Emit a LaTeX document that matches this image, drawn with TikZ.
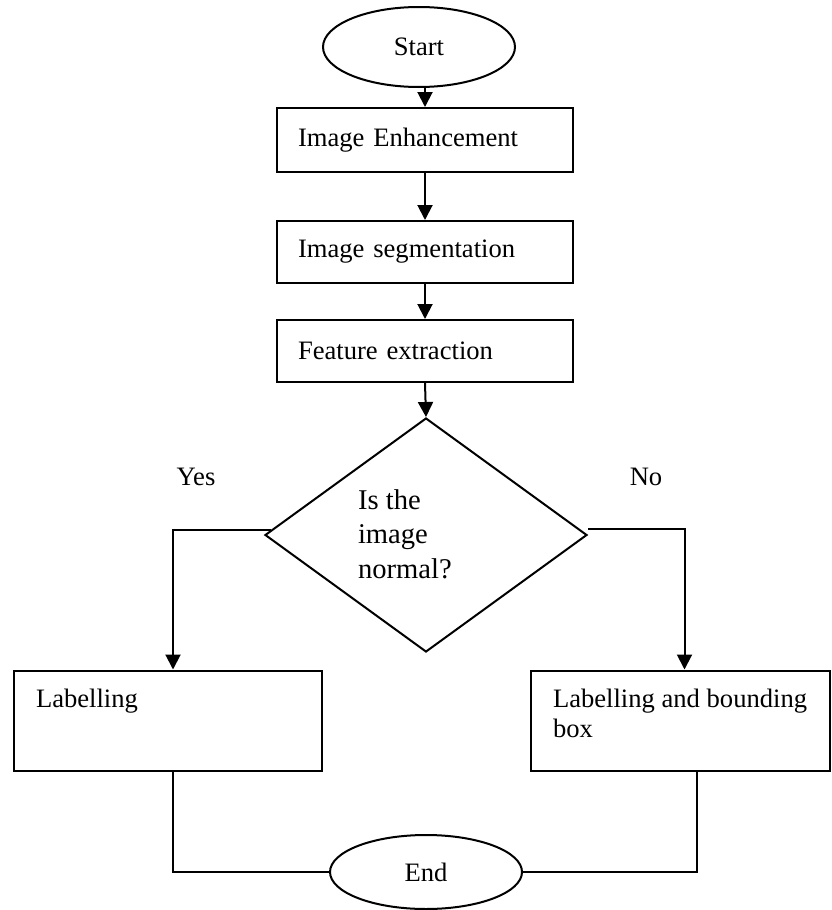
\documentclass[tikz,border=0pt]{standalone}
\usepackage{fontspec}
\setmainfont{Liberation Serif}
\usetikzlibrary{shapes.geometric,arrows.meta,calc}
\begin{document}
\begin{tikzpicture}[x=0.5pt,y=-0.5pt,
  line width=1pt,
  every node/.style={font=\fontsize{13.3}{15.2}\selectfont},
  term/.style={draw, ellipse, minimum width=96pt, inner sep=0pt},
  proc/.style={draw, rectangle, text width=127pt, inner xsep=10.5pt, inner ysep=0pt, align=left},
  box/.style={draw, rectangle, inner sep=0pt},
  txt/.style={inner sep=0pt, align=left},
  decision/.style={draw, diamond, minimum width=161pt, minimum height=117pt, inner sep=0pt},
  arr/.style={-{Triangle[length=7.5pt,width=7.5pt]}}
  ]
\useasboundingbox (0,0) rectangle (831,910);

\node[term, minimum height=40pt] (start) at (419,47) {Start};
\node[proc, minimum height=32pt] (b1) at (425,140) {Image Enhancement};
\node[proc, minimum height=31pt] (b2) at (425,252) {Image segmentation};
\node[proc, minimum height=31pt] (b3) at (425,351) {Feature extraction};
\node[decision] (d) at (426,535) {};
\node[txt, anchor=west, font=\fontsize{14.3}{17.25}\selectfont] (dq) at (357,534) {Is the\\image\\normal?};
\node[anchor=base, inner sep=0pt] (yes) at (196,485) {Yes};
\node[anchor=base, inner sep=0pt] (no) at (646,485) {No};

\node[box, minimum width=154pt, minimum height=50.25pt] (lab) at (168,720.75) {};
\node[box, minimum width=149.5pt, minimum height=50.25pt] (labr) at (680.5,720.75) {};
\node[inner sep=0pt, anchor=base west] (labt) at (35,707) {Labelling};
\node[inner sep=0pt, anchor=base west] (labrt) at (552,707) {\vtop{\hbox{Labelling and bounding}\hbox{box}}};

\node[term, minimum height=37pt] (end) at (426,872) {End};

\draw[arr] (start.south -| b1.north) -- (b1.north);
\draw[arr] (b1.south) -- (b2.north);
\draw[arr] (b2.south) -- (b3.north);
\draw[arr] (b3.south) -- (d.north);
\draw[arr] (d.178) -| ($(lab.north)+(5,0)$);
\draw[arr] ($(d.east)+(0,-6)$) -| ($(labr.north)+(4,0)$);
\draw ($(lab.south)+(5,0)$) |- (end.west);
\draw ($(labr.south)+(16,0)$) |- (end.east);
\end{tikzpicture}
\end{document}
